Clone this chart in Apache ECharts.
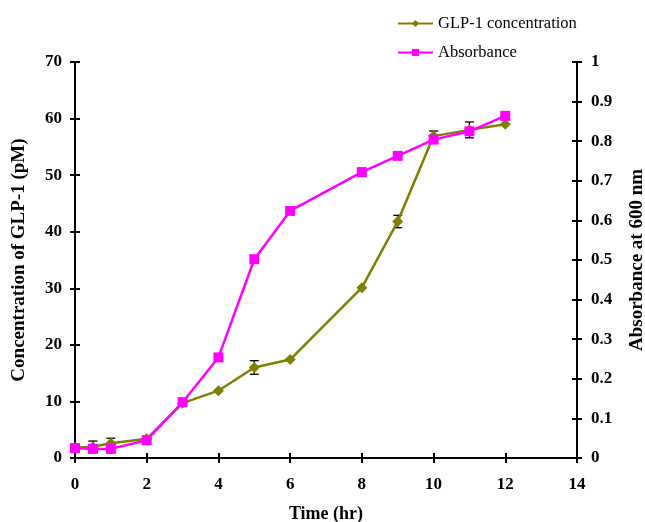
<!DOCTYPE html>
<html>
<head>
<meta charset="utf-8">
<script src="https://cdn.jsdelivr.net/npm/echarts@6/dist/echarts.min.js"></script>
<style>
  html, body { margin: 0; padding: 0; background: #fff; }
  #chart { width: 645px; height: 522px; }
</style>
</head>
<body>
<div id="chart"></div>
<script>
// Time points (hr)
const hours = [0, 0.5, 1, 2, 3, 4, 5, 6, 8, 9, 10, 11, 12];
// GLP-1 concentration (pM) and its error (+/-)
const glpValues = [1.8, 2.0, 2.6, 3.4, 9.7, 11.9, 16.0, 17.4, 30.1, 41.8, 56.9, 58.0, 59.0];
const glpErrors = [0, 1.0, 0.9, 0, 0, 0, 1.2, 0, 0, 1.1, 0.9, 1.4, 0];
// Absorbance at 600 nm
const absValues = [0.025, 0.023, 0.023, 0.045, 0.141, 0.254, 0.502, 0.624, 0.722, 0.763, 0.804, 0.825, 0.864];

const font = "Liberation Serif";
const chart = echarts.init(document.getElementById("chart"));

const glpData = hours.map((h, i) => [h, glpValues[i]]);
const absData = hours.map((h, i) => [h, absValues[i]]);
const errData = hours
  .map((h, i) => [h, glpValues[i] - glpErrors[i], glpValues[i] + glpErrors[i]])
  .filter((d, i) => glpErrors[i] > 0);

const labelStyle = { color: "#000", fontFamily: font, fontWeight: "bold", fontSize: 17 };
const nameStyle = (size) => ({ color: "#000", fontFamily: font, fontWeight: "bold", fontSize: size });
const axisLine = { show: true, onZero: false, lineStyle: { color: "#000", width: 2 } };
const noLine = { show: false, onZero: false };
const tickOut = { show: true, length: 5, lineStyle: { color: "#000", width: 2 } };
const tickIn = { show: true, inside: true, length: 5, lineStyle: { color: "#000", width: 2 } };

const options = {
  animation: false,
  backgroundColor: "#fff",
  grid: { left: 75, right: 68, top: 62, bottom: 64, outerBoundsMode: "none", containLabel: false },
  legend: {
    orient: "vertical",
    left: 392,
    top: 10,
    itemWidth: 35,
    itemHeight: 9,
    itemGap: 12,
    textStyle: { color: "#000", fontFamily: font, fontSize: 16.5 },
    data: ["GLP-1 concentration", "Absorbance"],
  },
  xAxis: [
    {
      type: "value",
      min: 0,
      max: 14,
      interval: 2,
      position: "bottom",
      name: "Time (hr)",
      nameLocation: "middle",
      nameGap: 47,
      nameTextStyle: nameStyle(18),
      axisLine: axisLine,
      axisTick: tickOut,
      axisLabel: Object.assign({ margin: 18 }, labelStyle),
      splitLine: { show: false },
    },
    {
      type: "value",
      min: 0,
      max: 14,
      interval: 2,
      position: "bottom",
      axisLine: noLine,
      axisTick: tickIn,
      axisLabel: { show: false },
      splitLine: { show: false },
    },
  ],
  yAxis: [
    {
      type: "value",
      min: 0,
      max: 70,
      interval: 10,
      position: "left",
      name: "Concentration of GLP-1 (pM)",
      nameLocation: "middle",
      nameGap: 46,
      nameTextStyle: nameStyle(19),
      axisLine: axisLine,
      axisTick: tickOut,
      axisLabel: Object.assign({ margin: 13 }, labelStyle),
      splitLine: { show: false },
    },
    {
      type: "value",
      min: 0,
      max: 1,
      interval: 0.1,
      position: "right",
      name: "Absorbance at 600 nm",
      nameLocation: "middle",
      nameGap: 51,
      nameRotate: 90,
      nameTextStyle: nameStyle(19),
      axisLine: axisLine,
      axisTick: tickOut,
      axisLabel: Object.assign({ margin: 14 }, labelStyle),
      splitLine: { show: false },
    },
    {
      type: "value",
      min: 0,
      max: 70,
      interval: 10,
      position: "left",
      axisLine: noLine,
      axisTick: tickIn,
      axisLabel: { show: false },
      splitLine: { show: false },
    },
    {
      type: "value",
      min: 0,
      max: 1,
      interval: 0.1,
      position: "right",
      axisLine: noLine,
      axisTick: tickIn,
      axisLabel: { show: false },
      splitLine: { show: false },
    },
  ],
  series: [
    {
      name: "GLP-1 concentration",
      type: "line",
      yAxisIndex: 0,
      data: glpData,
      symbol: "diamond",
      symbolSize: 11,
      lineStyle: { color: "#808000", width: 2.5 },
      itemStyle: { color: "#808000" },
    },
    {
      name: "error",
      type: "custom",
      yAxisIndex: 0,
      data: errData,
      z: 3,
      renderItem: (params, api) => {
        const x = api.value(0);
        const lo = api.coord([x, api.value(1)]);
        const hi = api.coord([x, api.value(2)]);
        const w = 4.5;
        const style = { stroke: "#000", lineWidth: 1.3 };
        return {
          type: "group",
          children: [
            { type: "line", shape: { x1: lo[0], y1: lo[1], x2: hi[0], y2: hi[1] }, style },
            { type: "line", shape: { x1: hi[0] - w, y1: hi[1], x2: hi[0] + w, y2: hi[1] }, style },
            { type: "line", shape: { x1: lo[0] - w, y1: lo[1], x2: lo[0] + w, y2: lo[1] }, style },
          ],
        };
      },
    },
    {
      name: "Absorbance",
      type: "line",
      yAxisIndex: 1,
      data: absData,
      symbol: "rect",
      symbolSize: 10,
      z: 4,
      lineStyle: { color: "#FF00FF", width: 2.5 },
      itemStyle: { color: "#FF00FF" },
    },
  ],
};

chart.setOption(options);
</script>
</body>
</html>
